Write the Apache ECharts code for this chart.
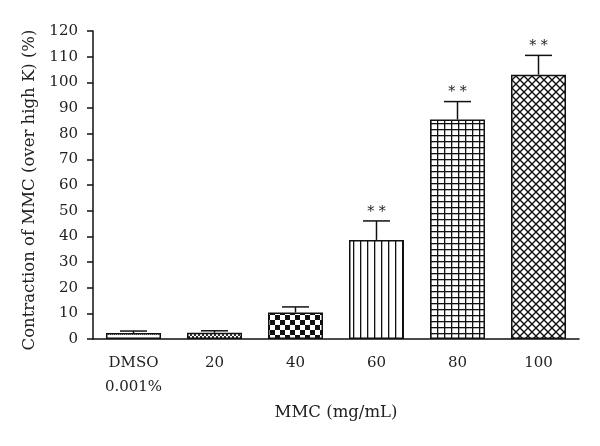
<!DOCTYPE html>
<html><head><meta charset="utf-8">
<script src="https://cdn.jsdelivr.net/npm/echarts@6/dist/echarts.min.js"></script>
<style>html,body{margin:0;padding:0;background:#fff}#c{width:600px;height:446px}</style>
</head><body><div id="c"></div>
<script>
var categories = ['DMSO\n0.001%', '20', '40', '60', '80', '100'];
var means = [2.3, 2.4, 10.3, 38.6, 85.5, 103.0];
var errors = [0.8, 0.8, 2.2, 7.4, 7.0, 7.5];
var marks = ['', '', '', '* *', '* *', '* *'];
var yTicks = [0, 10, 20, 30, 40, 50, 60, 70, 80, 90, 100, 110, 120];

function pat(w, h, draw) {
  var c = document.createElement('canvas');
  c.width = w; c.height = h;
  var g = c.getContext('2d');
  g.fillStyle = '#fff'; g.fillRect(0, 0, w, h);
  g.fillStyle = '#111'; g.strokeStyle = '#111';
  draw(g);
  return { image: c, repeat: 'repeat' };
}
var patterns = [
  pat(4, 4, function (g) { g.fillStyle = '#555'; g.fillRect(0, 2, 1, 1); g.fillRect(2, 2, 1, 1); }),
  pat(4, 4, function (g) { g.fillStyle = '#333'; g.fillRect(0, 0, 2, 2); g.fillRect(2, 2, 2, 2); }),
  pat(10, 10, function (g) { g.fillRect(0, 0, 5, 5); g.fillRect(5, 5, 5, 5); }),
  pat(7, 7, function (g) { g.fillRect(3, 0, 1.3, 7); }),
  pat(7, 6.5, function (g) { g.fillRect(3, 0, 1.3, 7); g.fillRect(0, 3, 7, 1.3); }),
  pat(8, 8, function (g) {
    g.lineWidth = 1.4;
    g.beginPath();
    g.moveTo(-1, -1); g.lineTo(9, 9);
    g.moveTo(9, -1); g.lineTo(-1, 9);
    g.stroke();
  })
];
var font = '"DejaVu Serif", "Liberation Serif", serif';

var chart = echarts.init(document.getElementById('c'), null, { renderer: 'canvas' });
chart.setOption({
  animation: false,
  grid: { left: 93, right: 21, top: 31, bottom: 107 },
  xAxis: {
    type: 'category', data: categories,
    name: 'MMC (mg/mL)', nameLocation: 'middle', nameGap: 64,
    nameTextStyle: { fontFamily: font, fontSize: 16.5, color: '#222' },
    axisLine: { lineStyle: { color: '#111', width: 1.5 } },
    axisTick: { alignWithLabel: true, length: 6, lineStyle: { color: '#111', width: 1.5 } },
    axisLabel: { fontFamily: font, fontSize: 15, color: '#222', margin: 12, lineHeight: 24 }
  },
  yAxis: {
    type: 'value', min: 0, max: 120, interval: 10,
    name: 'Contraction of MMC (over high K) (%)', nameLocation: 'middle', nameGap: 54,
    nameTextStyle: { fontFamily: font, fontSize: 16.5, color: '#222', padding: [0, 10, 0, 0] },
    axisLine: { show: true, lineStyle: { color: '#111', width: 1.5 } },
    axisTick: { show: true, length: 6, lineStyle: { color: '#111', width: 1.5 } },
    axisLabel: { fontFamily: font, fontSize: 15, color: '#222', margin: 15,
      formatter: function (v) { return yTicks.indexOf(v) >= 0 ? String(v) : ''; } },
    splitLine: { show: false }
  },
  series: [
    {
      type: 'bar', barWidth: 55,
      data: means.map(function (m, i) {
        return { value: m, itemStyle: { color: patterns[i], borderColor: '#111', borderWidth: 1.5 } };
      })
    },
    {
      type: 'custom', z: 10,
      data: means.map(function (m, i) { return [i, m, errors[i]]; }),
      renderItem: function (params, api) {
        var i = api.value(0), m = api.value(1), e = api.value(2);
        var base = api.coord([i, m]);
        var top = api.coord([i, m + e]);
        var half = 13.5;
        var children = [
          { type: 'line', shape: { x1: base[0], y1: base[1], x2: top[0], y2: top[1] }, style: { stroke: '#111', lineWidth: 1.5 } },
          { type: 'line', shape: { x1: top[0] - half, y1: top[1], x2: top[0] + half, y2: top[1] }, style: { stroke: '#111', lineWidth: 1.5 } }
        ];
        var t = marks[params.dataIndex];
        if (t) {
          children.push({ type: 'text', style: { text: t, x: top[0], y: top[1] - 9, align: 'center', verticalAlign: 'middle', fontFamily: font, fontSize: 14, fill: '#222' } });
        }
        return { type: 'group', children: children };
      }
    }
  ]
});
</script></body></html>
